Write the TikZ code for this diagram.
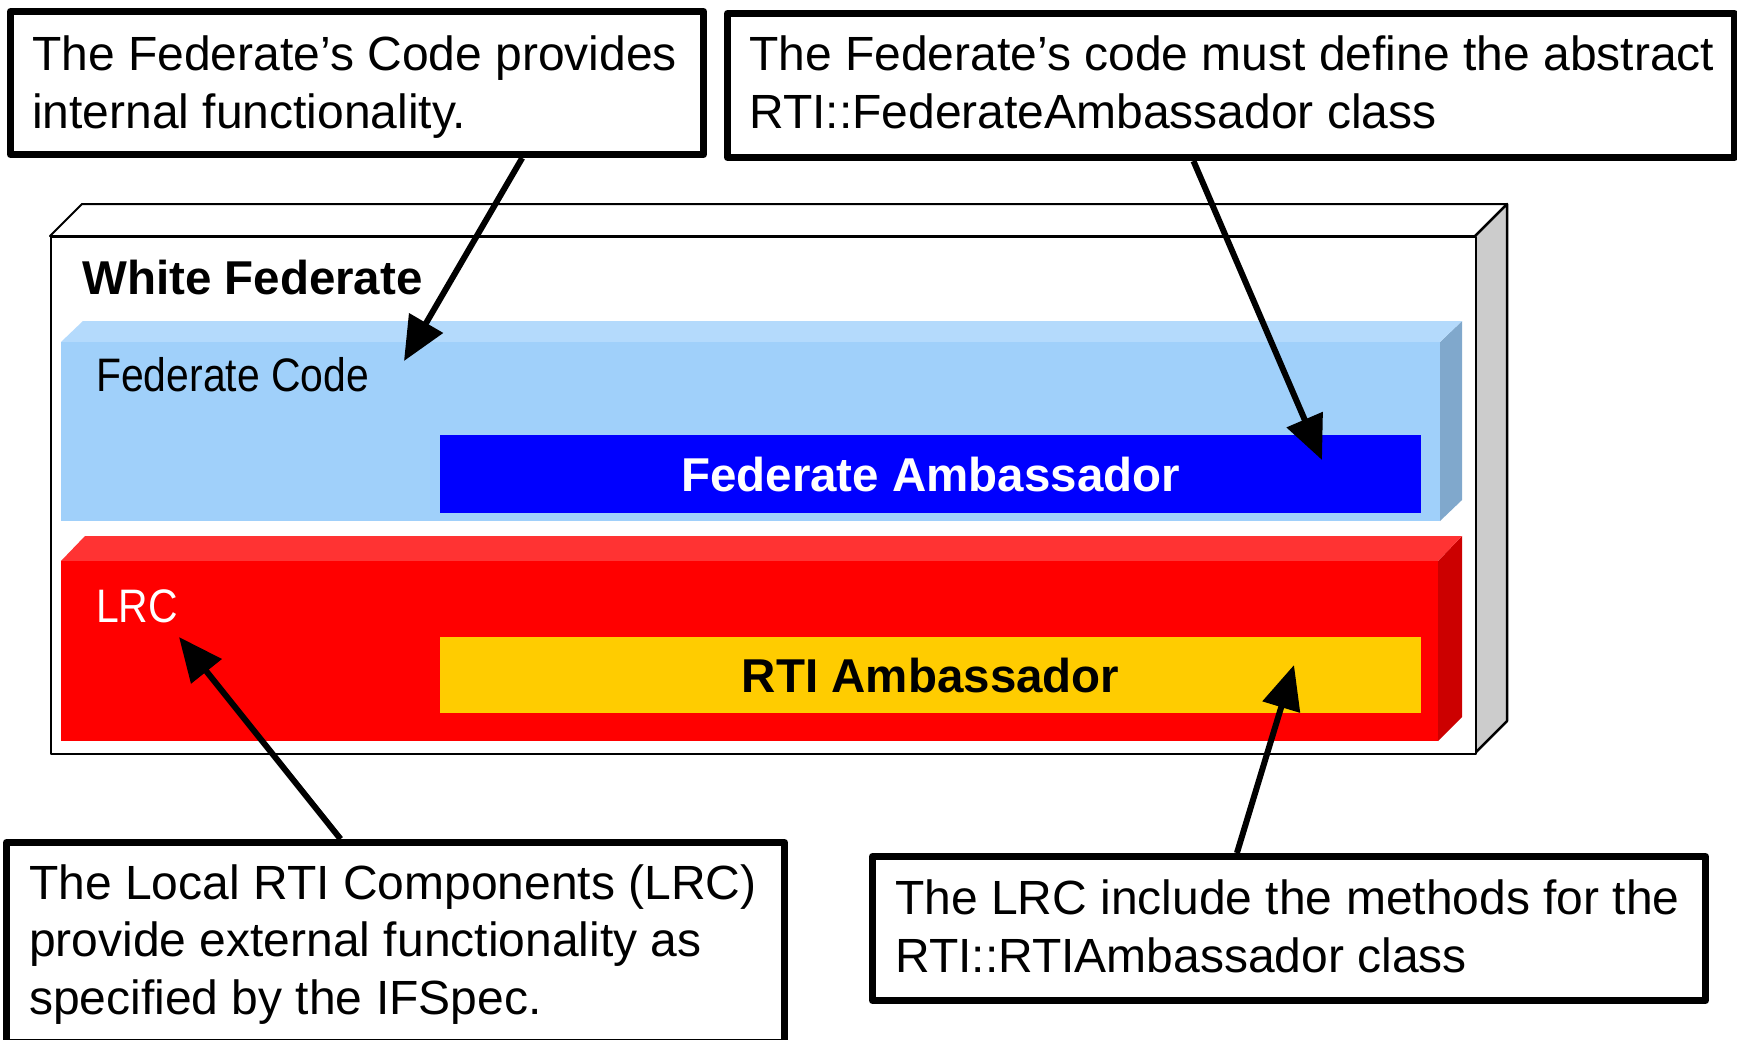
\documentclass[tikz,border=0pt]{standalone}
\usepackage{fontspec}
\setmainfont{Liberation Sans}
\newfontfamily\narrowfont[FakeStretch=0.87]{Liberation Sans}
\usetikzlibrary{arrows.meta,calc}
\definecolor{fcfront}{HTML}{A0D0FA}
\definecolor{fctop}{HTML}{B4DAFC}
\definecolor{fcside}{HTML}{80A8CC}
\definecolor{fablue}{HTML}{0000FF}
\definecolor{lrcfront}{HTML}{FF0000}
\definecolor{lrctop}{HTML}{FF3333}
\definecolor{lrcside}{HTML}{CC0000}
\definecolor{rtigold}{HTML}{FFCC00}
\definecolor{sidegrey}{HTML}{CCCCCC}
\begin{document}
\begin{tikzpicture}[x=1pt,y=-1pt,
  callout/.style={draw=black, line width=7pt, line join=round, fill=white, inner sep=0pt, anchor=north west},
  ctext/.style={anchor=base west, inner sep=0pt, align=left, font=\fontsize{48}{57.5}\selectfont},
  arr/.style={line width=6pt, -{Triangle[length=44pt,width=38pt]}},
  frame/.style={draw=black, line width=2pt, line join=round},
  bar/.style={inner sep=0pt, anchor=north west},
  bartext/.style={inner sep=0pt, font=\fontsize{47.5}{57}\selectfont\bfseries},
  layertext/.style={anchor=base west, inner sep=0pt, font=\fontsize{47}{55}\selectfont\narrowfont}]
\useasboundingbox[fill=white] (0,0) rectangle (1737,1039);

% outer 3D box (White Federate)
\draw[frame, fill=white] (50,236) -- (82,204) -- (1507,204) -- (1475,236) -- cycle;
\draw[frame, fill=sidegrey, line width=2.5pt] (1475,236) -- (1507,204) -- (1507,721) -- (1475,753) -- cycle;
\node[frame, bar, fill=white, minimum width=1425pt, minimum height=517pt] (wf) at (50,236) {};
\node[anchor=base west, inner sep=0pt, font=\fontsize{47.5}{57}\selectfont\bfseries] (wft) at (82,294) {White Federate};

% Federate Code layer
\fill[fcside] (1440,342) -- (1462,321) -- (1462,500) -- (1440,521) -- cycle;
\fill[fctop] (61,342) -- (83,321) -- (1462,321) -- (1440,342) -- cycle;
\node[bar, fill=fcfront, minimum width=1379pt, minimum height=179pt] (fc) at (61,342) {};
\node[layertext] (fct) at (96,391) {Federate Code};
\node[bar, fill=fablue, minimum width=981pt, minimum height=78pt] (fa) at (440,435) {};
\node[bartext, text=white] (fat) at (fa.center) {Federate Ambassador};

% LRC layer
\fill[lrcside] (1438,561) -- (1462,536) -- (1462,717) -- (1438,741) -- cycle;
\fill[lrctop] (61,561) -- (85,536) -- (1462,536) -- (1438,561) -- cycle;
\node[bar, fill=lrcfront, minimum width=1377pt, minimum height=180pt] (lrc) at (61,561) {};
\node[layertext, text=white] (lrct) at (96,622) {LRC};
\node[bar, fill=rtigold, minimum width=981pt, minimum height=76pt] (ra) at (440,637) {};
\node[bartext, text=black] (rat) at (ra.center) {RTI Ambassador};

% callouts
\node[callout, minimum width=693pt, minimum height=143pt] (c1) at (7,8) {};
\node[ctext] (c1t) at (32,128) {The Federate’s Code provides\\internal functionality.};
\node[callout, minimum width=1007pt, minimum height=144pt] (c2) at (724,10) {};
\node[ctext] (c2t) at (749,128) {The Federate’s code must define the abstract\\RTI::FederateAmbassador class};
\node[callout, minimum width=778pt, minimum height=200pt] (c3) at (3,839) {};
\node[ctext] (c3t) at (29,1014) {The Local RTI Components (LRC)\\provide external functionality as\\specified by the IFSpec.};
\node[callout, minimum width=833pt, minimum height=144pt] (c4) at (869,853) {};
\node[ctext] (c4t) at (895,972) {The LRC include the methods for the\\RTI::RTIAmbassador class};

% arrow targets
\coordinate (t1) at (404,361);
\coordinate (t2) at (1322,460);
\coordinate (t3) at (179,637);
\coordinate (t4) at (1294,665);

\draw[arr] ($(c1.south west)!0.736!(c1.south east)$) -- (t1);
\draw[arr] ($(c2.south west)!0.463!(c2.south east)$) -- (t2);
\draw[arr] ($(c3.north west)!0.43!(c3.north east)$) -- (t3);
\draw[arr] ($(c4.north west)!0.438!(c4.north east)$) -- (t4);
\end{tikzpicture}
\end{document}
